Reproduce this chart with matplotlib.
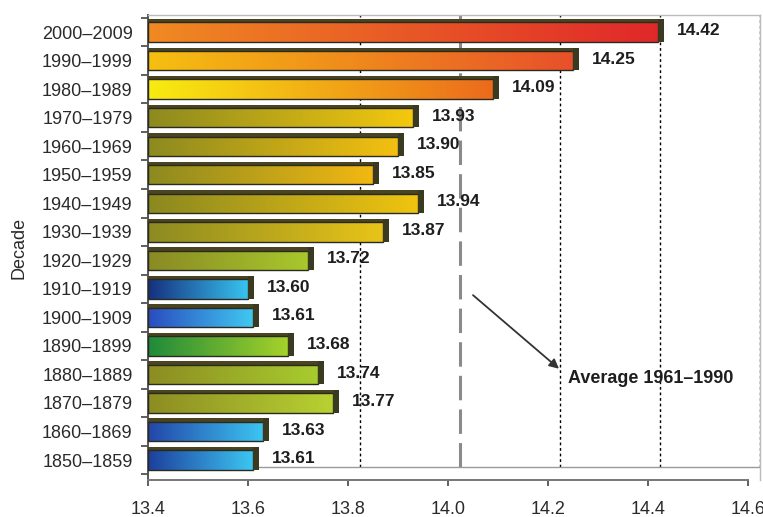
import numpy as np
import matplotlib.pyplot as plt
from matplotlib.colors import LinearSegmentedColormap
from matplotlib.patches import Rectangle

plt.rcParams['font.family'] = ['Liberation Sans', 'DejaVu Sans']

decades = ['1850–1859', '1860–1869', '1870–1879', '1880–1889', '1890–1899',
           '1900–1909', '1910–1919', '1920–1929', '1930–1939', '1940–1949',
           '1950–1959', '1960–1969', '1970–1979', '1980–1989', '1990–1999',
           '2000–2009']
temps = [13.61, 13.63, 13.77, 13.74, 13.68, 13.61, 13.60, 13.72, 13.87, 13.94,
         13.85, 13.90, 13.93, 14.09, 14.25, 14.42]
x_ticks = [13.4, 13.6, 13.8, 14.0, 14.2, 14.4, 14.6]
avg_label = 'Average 1961–1990'

# gradient (left colour, right colour) for each bar
grad_colors = [
    ('#1d3f9c', '#3cc6f2'), ('#2346a8', '#3cc6f2'), ('#8c8c22', '#b8d232'),
    ('#8c8c22', '#a8cc2e'), ('#1f8a3a', '#a6d22a'), ('#2a4cc0', '#40c8f0'),
    ('#16307e', '#38c4f0'), ('#8a8a24', '#a8c82c'), ('#8c8a22', '#e8c418'),
    ('#8a8820', '#f0c410'), ('#8c8a20', '#f2b812'), ('#8c8a20', '#f4c010'),
    ('#8c8a20', '#f4c80e'), ('#f8ec10', '#ec6a1c'), ('#f6c010', '#e8502a'),
    ('#f08a22', '#e0282a'),
]

x0 = 13.4
depth = 0.024   # back wall shift, gives the pseudo 3D look

fig = plt.figure(figsize=(7.63, 5.17), dpi=100)
ax = fig.add_axes([148 / 763, 37 / 517, 612 / 763, 465 / 517])

# reference lines on the back wall, behind the bars
for gx in [13.8, 14.2, 14.4, 14.6]:
    ax.plot([gx + depth, gx + depth], [-0.25, 15.6], color='black', lw=1.0,
            ls=(0, (2, 2)), zorder=1)
ax.plot([14.0 + depth, 14.0 + depth], [-0.25, 15.6], color='#8a8a8a', lw=2.2,
        ls=(0, (8, 3)), zorder=1)
# back floor edge
ax.plot([x0 + depth, 14.6 + depth], [-0.25, -0.25], color='#999999', lw=1.0,
        zorder=1)

grad = np.linspace(0, 1, 256).reshape(1, -1)
h = 0.68
for i, (v, (c1, c2)) in enumerate(zip(temps, grad_colors)):
    cmap = LinearSegmentedColormap.from_list('g%d' % i, [c1, c2])
    ax.imshow(grad, extent=[x0, v, i - h / 2, i + h / 2], aspect='auto',
              cmap=cmap, zorder=3, interpolation='bicubic')
    # dark top face and right cap
    ax.add_patch(Rectangle((x0, i + h / 2), v - x0 + 0.012, 0.12,
                           facecolor='#4a4420', edgecolor='none', zorder=3))
    ax.add_patch(Rectangle((x0, i - h / 2), v - x0, h, facecolor='none',
                           edgecolor='#2a2a20', lw=1.0, zorder=4))
    ax.add_patch(Rectangle((v, i - h / 2), 0.012, h + 0.12,
                           facecolor='#3a3a20', edgecolor='none', zorder=4))
    ax.text(v + 0.038, i + 0.05, '%.2f' % v, fontsize=12.5, fontweight='bold',
            color='#1e1e1e', va='center', ha='left', zorder=5)

ax.annotate('', xy=(14.222, 3.2), xytext=(14.05, 5.78),
            arrowprops=dict(arrowstyle='-|>', color='#333333', lw=1.3,
                            mutation_scale=14, shrinkA=0, shrinkB=0),
            zorder=6)
ax.text(14.24, 2.87, avg_label, fontsize=13, fontweight='bold',
        color='#1e1e1e', va='center', ha='left', zorder=6)

ax.set_xlim(13.4, 14.624)
ax.set_ylim(-0.7, 15.6)
ax.set_xticks(x_ticks)
ax.set_xticklabels(['%.1f' % t for t in x_ticks], fontsize=13, color='#2a2a2a')
ax.set_yticks(range(len(decades)))
ax.set_yticklabels(decades, fontsize=13, color='#2a2a2a')
ax.set_yticks(np.arange(-0.5, len(decades), 1), minor=True)
ax.tick_params(axis='y', which='major', length=0, pad=11)
ax.tick_params(axis='y', which='minor', length=5, color='#444444', width=1.2)
ax.tick_params(axis='x', length=4, color='#444444', width=1.2, pad=11)
ax.set_ylabel('Decade', fontsize=13, color='#2a2a2a', labelpad=10)

ax.spines['left'].set_color('#555555')
ax.spines['left'].set_linewidth(1.4)
ax.spines['bottom'].set_color('#777777')
ax.spines['bottom'].set_linewidth(1.4)
ax.spines['bottom'].set_bounds(13.4, 14.6)
for s in ['top', 'right']:
    ax.spines[s].set_color('#bbbbbb')
    ax.spines[s].set_linewidth(1.0)

fig.savefig('out.png', dpi=100)
